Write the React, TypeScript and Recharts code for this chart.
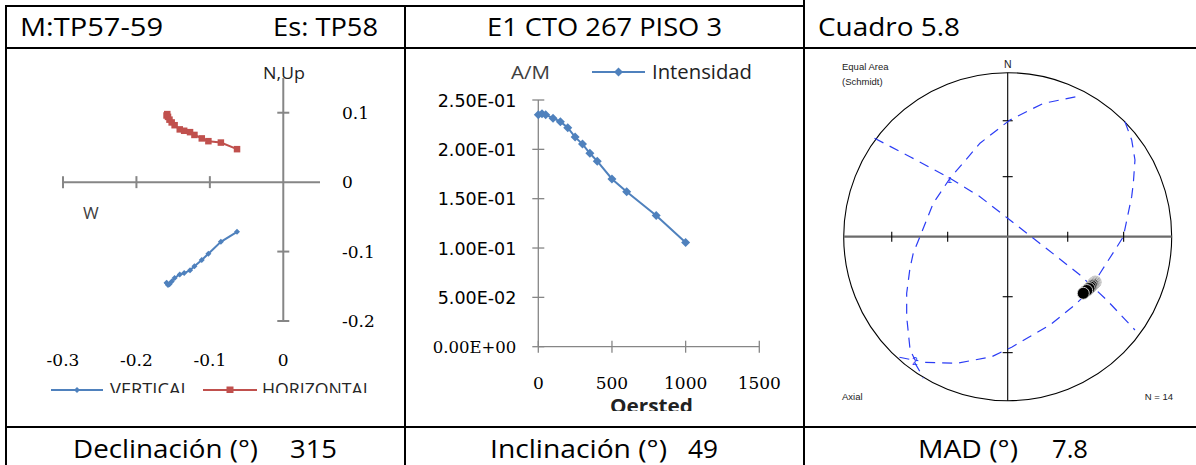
import React from 'react';
import {
  ScatterChart, Scatter, XAxis, YAxis, ReferenceLine, ReferenceDot, ReferenceArea,
  LineChart, Line,
} from 'recharts';

// ---------- Panel 1: Zijderveld diagram ----------
const steps = [0, 25, 50, 100, 150, 200, 250, 300, 350, 400, 500, 600, 800, 1000];
const east = [-0.159, -0.158, -0.157, -0.155, -0.152, -0.148, -0.141, -0.135, -0.127, -0.121, -0.111, -0.102, -0.085, -0.063];
const north = [0.096, 0.098, 0.094, 0.090, 0.086, 0.082, 0.076, 0.074, 0.072, 0.068, 0.063, 0.059, 0.057, 0.0475];
const up = [-0.145, -0.146, -0.148, -0.147, -0.143, -0.138, -0.133, -0.131, -0.127, -0.121, -0.112, -0.103, -0.086, -0.0715];
const zijXTicks = [-0.3, -0.2, -0.1, 0];
const zijYTicks = [-0.2, -0.1, 0, 0.1];

// ---------- Panel 2: intensity decay ----------
const intensity = [0.235, 0.236, 0.235, 0.2316, 0.228, 0.222, 0.2124, 0.2053, 0.196, 0.188, 0.170, 0.157, 0.133, 0.1055];
const intXTicks = [0, 500, 1000, 1500];
const intYTicks = [0, 0.05, 0.1, 0.15, 0.2, 0.25];
const intYLabels = ['0.00E+00', '5.00E-02', '1.00E-01', '1.50E-01', '2.00E-01', '2.50E-01'];

// ---------- Panel 3: equal-area stereonet (unit-circle coordinates) ----------
const netTicks = [-0.707, -0.366, 0.366, 0.707];
const circleA: [number, number][] = [
  [0.715, 0.701], [0.756, 0.59], [0.776, 0.468], [0.766, 0.326], [0.756, 0.244], [0.705, 0.0],
  [0.654, -0.081], [0.563, -0.223], [0.482, -0.345], [0.41, -0.416], [0.258, -0.538], [0.024, -0.674],
  [-0.098, -0.732], [-0.311, -0.772], [-0.504, -0.766], [-0.565, -0.752], [-0.595, -0.691],
  [-0.616, -0.488], [-0.616, -0.345], [-0.596, -0.193], [-0.576, -0.101], [-0.535, 0.0],
  [-0.454, 0.204], [-0.352, 0.356], [-0.169, 0.57], [0.014, 0.712], [0.217, 0.813], [0.451, 0.86],
];
const circleB: [number, number][] = [
  [-0.812, 0.6], [-0.596, 0.488], [-0.352, 0.356], [-0.169, 0.244], [0.0, 0.112],
  [0.248, -0.081], [0.39, -0.193], [0.441, -0.234], [0.604, -0.386], [0.776, -0.569],
];
const circleC: [number, number][] = [
  [-0.66, -0.735], [-0.576, -0.752], [-0.535, -0.823], [-0.515, -0.863],
];
const dirU = [0.534, 0.533, 0.532, 0.53, 0.528, 0.526, 0.523, 0.52, 0.516, 0.511, 0.504, 0.496, 0.482, 0.461];
const dirV = [-0.276, -0.277, -0.278, -0.28, -0.282, -0.284, -0.287, -0.29, -0.295, -0.3, -0.307, -0.316, -0.328, -0.345];

const vertPts = east.map((e, i) => ({ x: e, y: up[i] }));
const horPts = east.map((e, i) => ({ x: e, y: north[i] }));
const intData = steps.map((s, i) => ({ oe: s, m: intensity[i] }));
const toPts = (arr: [number, number][]) => arr.map(([x, y]) => ({ x, y }));
const dirPts = dirU.map((u, i) => ({ x: u, y: dirV[i] }));

const BLUE = '#4F81BD';
const RED = '#C0504D';
const AXIS = '#868686';
const NETBLUE = '#2b3cf5';
const SANS = '"Open Sans", "DejaVu Sans", sans-serif';
const SERIF = '"DejaVu Serif", serif';
const ARIAL = '"Liberation Sans", Arial, sans-serif';

const fmtNum = (v: number) => String(v);

const ZXTick = (p: any) => (
  <text x={p.x} y={p.y + 45} textAnchor="middle" fontFamily={SERIF} fontSize={17} fill="#000">
    {fmtNum(p.payload.value)}
  </text>
);
const ZYTick = (p: any) => (
  <text x={p.x + 22} y={p.y + 6} textAnchor="start" fontFamily={SERIF} fontSize={17} fill="#000">
    {fmtNum(p.payload.value)}
  </text>
);
const IXTick = (p: any) => (
  <g>
    <line x1={p.x} x2={p.x} y1={p.y - 6} y2={p.y + 6} stroke={AXIS} strokeWidth={1.3} />
    <text x={p.x} y={p.y + 42.5} textAnchor="middle" fontFamily={SERIF} fontSize={17} fill="#000">
      {p.payload.value}
    </text>
  </g>
);
const IYTick = (p: any) => {
  const idx = intYTicks.indexOf(p.payload.value);
  const isZero = p.payload.value === 0;
  return (
    <g>
      <line x1={p.x - 6} x2={p.x + 6} y1={p.y} y2={p.y} stroke={AXIS} strokeWidth={1.3} />
      <text x={p.x - 22} y={p.y + 6.5} textAnchor="end" fontFamily={isZero ? SERIF : '"DejaVu Sans", sans-serif'}
        fontSize={isZero ? 16.5 : 17.5} fill="#000">
        {intYLabels[idx]}
      </text>
    </g>
  );
};

const VTick = (len: number, color: string, w: number) => (p: any) => (
  <line x1={p.cx} x2={p.cx} y1={p.cy - len} y2={p.cy + len} stroke={color} strokeWidth={w} />
);
const HTick = (len: number, color: string, w: number) => (p: any) => (
  <line x1={p.cx - len} x2={p.cx + len} y1={p.cy} y2={p.cy} stroke={color} strokeWidth={w} />
);

const Diamond = (r: number, color: string) => (p: any) => (
  <path key={`dm${p.index}`} d={`M${p.cx},${p.cy - r}L${p.cx + r},${p.cy}L${p.cx},${p.cy + r}L${p.cx - r},${p.cy}Z`} fill={color} />
);
const Square = (s: number, color: string) => (p: any) => (
  <rect x={p.cx - s / 2} y={p.cy - s / 2} width={s} height={s} fill={color} />
);
const NoShape = () => <g />;
const NetDot = (p: any) => (
  <circle cx={p.cx} cy={p.cy} r={6} fill="#000" stroke="#ddd" strokeWidth={0.9} />
);
const PrimitiveCircle = (p: any) => (
  <ellipse cx={p.x + p.width / 2} cy={p.y + p.height / 2} rx={p.width / 2} ry={p.height / 2}
    fill="none" stroke="#000" strokeWidth={1.1} />
);

const dashLine = { stroke: NETBLUE, strokeWidth: 1.2, strokeDasharray: '10 7', fill: 'none' };

export default function App() {
  return (
    <div style={{ position: 'absolute', left: 0, top: 0, width: 1196, height: 465, background: '#fff', overflow: 'hidden' }}>
      {/* Panel 1 */}
      <div style={{ position: 'absolute', left: 6, top: 48, width: 399, height: 345, overflow: 'hidden' }}>
        <ScatterChart width={399} height={345} margin={{ top: 30, right: 25, bottom: 32, left: 57 }}>
          <XAxis type="number" dataKey="x" domain={[-0.3, 0.05]} ticks={zijXTicks} axisLine={false} tickLine={false}
            tickSize={0} tickMargin={0} height={40} tick={ZXTick} allowDataOverflow />
          <YAxis type="number" dataKey="y" orientation="right" domain={[-0.2, 0.15]} ticks={zijYTicks} axisLine={false}
            tickLine={false} tickSize={0} tickMargin={0} width={60} tick={ZYTick} allowDataOverflow />
          <ReferenceLine y={0} stroke={AXIS} strokeWidth={2} />
          <ReferenceLine x={0} stroke={AXIS} strokeWidth={2} />
          {zijXTicks.filter((v) => v !== 0).map((v) => (
            <ReferenceDot key={'zx' + v} x={v} y={0} r={1} shape={VTick(6, AXIS, 2)} />
          ))}
          {zijYTicks.filter((v) => v !== 0).map((v) => (
            <ReferenceDot key={'zy' + v} x={0} y={v} r={1} shape={HTick(6, AXIS, 2)} />
          ))}
          <Scatter data={vertPts} fill={BLUE} line={{ stroke: BLUE, strokeWidth: 2 }} shape={Diamond(3, BLUE)} isAnimationActive={false} />
          <Scatter data={horPts} fill={RED} line={{ stroke: RED, strokeWidth: 2 }} shape={Square(6.5, RED)} isAnimationActive={false} />
        </ScatterChart>
      </div>

      {/* Panel 2 */}
      <div style={{ position: 'absolute', left: 405, top: 48, width: 399, height: 363, overflow: 'hidden' }}>
        <LineChart width={399} height={363} data={intData} margin={{ top: 52, right: 44.7, bottom: 24.3, left: 33.3 }}>
          <XAxis type="number" dataKey="oe" domain={[0, 1500]} ticks={intXTicks} axisLine={{ stroke: AXIS, strokeWidth: 1.3 }}
            tickLine={false} tickSize={0} tickMargin={0} height={40} tick={IXTick} />
          <YAxis type="number" domain={[0, 0.25]} ticks={intYTicks} axisLine={{ stroke: AXIS, strokeWidth: 1.3 }}
            tickLine={false} tickSize={0} tickMargin={0} width={100} tick={IYTick} />
          <Line type="linear" dataKey="m" stroke={BLUE} strokeWidth={2} dot={Diamond(4.5, BLUE)} isAnimationActive={false} />
        </LineChart>
      </div>

      {/* Panel 3 */}
      <div style={{ position: 'absolute', left: 804, top: 48, width: 392, height: 379 }}>
        <ScatterChart width={392} height={379} margin={{ top: 24.7, right: 24.3, bottom: 26.3, left: 39.7 }}>
          <XAxis type="number" dataKey="x" domain={[-1, 1]} hide />
          <YAxis type="number" dataKey="y" domain={[-1, 1]} hide />
          <ReferenceArea x1={-1} x2={1} y1={-1} y2={1} shape={PrimitiveCircle} />
          <ReferenceLine x={0} stroke="#000" strokeWidth={1.1} />
          <ReferenceLine y={0} stroke="#6b6b6b" strokeWidth={2.2} />
          {netTicks.map((v) => (
            <ReferenceDot key={'nx' + v} x={v} y={0} r={1} shape={VTick(5, '#000', 1.1)} />
          ))}
          {netTicks.map((v) => (
            <ReferenceDot key={'ny' + v} x={0} y={v} r={1} shape={HTick(5, '#000', 1.1)} />
          ))}
          <Scatter data={toPts(circleA)} fill={NETBLUE} line={dashLine} shape={NoShape} isAnimationActive={false} />
          <Scatter data={toPts(circleB)} fill={NETBLUE} line={dashLine} shape={NoShape} isAnimationActive={false} />
          <Scatter data={toPts(circleC)} fill={NETBLUE} line={dashLine} shape={NoShape} isAnimationActive={false} />
          <Scatter data={dirPts} fill="#000" shape={NetDot} isAnimationActive={false} />
        </ScatterChart>
      </div>

      {/* Overlay: table, titles, legends */}
      <svg width={1196} height={465} style={{ position: 'absolute', left: 0, top: 0, pointerEvents: 'none' }}>
        <defs>
          <clipPath id="clip1"><rect x={6} y={48} width={399} height={345} /></clipPath>
          <clipPath id="clip2"><rect x={405} y={48} width={399} height={363} /></clipPath>
        </defs>
        {/* table grid */}
        <g stroke="#000" strokeWidth={2}>
          <line x1={5} x2={805} y1={6} y2={6} />
          <line x1={5} x2={1196} y1={48} y2={48} />
          <line x1={5} x2={1196} y1={427} y2={427} />
          <line x1={6} x2={6} y1={5} y2={465} />
          <line x1={405} x2={405} y1={5} y2={465} />
          <line x1={804} x2={804} y1={0} y2={465} />
        </g>
        {/* header texts */}
        <g fontFamily={SANS} fontSize={25} fill="#000">
          <text x={20} y={36} textLength={143} lengthAdjust="spacingAndGlyphs">M:TP57-59</text>
          <text x={273} y={36} textLength={105} lengthAdjust="spacingAndGlyphs">Es: TP58</text>
          <text x={487} y={36} textLength={235} lengthAdjust="spacingAndGlyphs">E1 CTO 267 PISO 3</text>
          <text x={818} y={36} textLength={142} lengthAdjust="spacingAndGlyphs">Cuadro 5.8</text>
        </g>
        {/* footer texts */}
        <g fontFamily={SANS} fontSize={25.5} fill="#000">
          <text x={73} y={457.5} textLength={185} lengthAdjust="spacingAndGlyphs">Declinación (°)</text>
          <text x={290} y={457.5} textLength={47} lengthAdjust="spacingAndGlyphs">315</text>
          <text x={490} y={457.5} textLength={177} lengthAdjust="spacingAndGlyphs">Inclinación (°)</text>
          <text x={688} y={457.5} textLength={30} lengthAdjust="spacingAndGlyphs">49</text>
          <text x={918} y={457.5} textLength={100} lengthAdjust="spacingAndGlyphs">MAD (°)</text>
          <text x={1052} y={457.5} textLength={36} lengthAdjust="spacingAndGlyphs">7.8</text>
        </g>

        {/* panel 1 labels & legend */}
        <text x={263} y={79} fontFamily={SANS} fontSize={17} fill="#222" textLength={42} lengthAdjust="spacingAndGlyphs">N,Up</text>
        <text x={83} y={219} fontFamily={SANS} fontSize={17} fill="#404040">W</text>
        <g clipPath="url(#clip1)">
          <line x1={51} x2={103} y1={390} y2={390} stroke={BLUE} strokeWidth={2} />
          <path d="M77,387L80,390L77,393L74,390Z" fill={BLUE} />
          <text x={110} y={396} fontFamily={SANS} fontSize={18} fill="#262626" textLength={80} lengthAdjust="spacingAndGlyphs">VERTICAL</text>
          <line x1={203} x2={257} y1={390} y2={390} stroke={RED} strokeWidth={2} />
          <rect x={226.5} y={386.5} width={7} height={7} fill={RED} />
          <text x={262} y={396} fontFamily={SANS} fontSize={18} fill="#262626" textLength={110} lengthAdjust="spacingAndGlyphs">HORIZONTAL</text>
        </g>

        {/* panel 2 labels & legend */}
        <text x={511} y={78.5} fontFamily={SANS} fontSize={19} fill="#404040" textLength={39} lengthAdjust="spacingAndGlyphs">A/M</text>
        <line x1={592} x2={645} y1={72} y2={72} stroke={BLUE} strokeWidth={2} />
        <path d="M618.5,67.5L623,72L618.5,76.5L614,72Z" fill={BLUE} />
        <text x={652} y={79} fontFamily={SANS} fontSize={20} fill="#222" textLength={100} lengthAdjust="spacingAndGlyphs">Intensidad</text>
        <g clipPath="url(#clip2)">
          <text x={610} y={413} fontFamily={SANS} fontSize={20} fontWeight="bold" fill="#222" textLength={83} lengthAdjust="spacingAndGlyphs">Oersted</text>
        </g>

        {/* panel 3 labels */}
        <g fontFamily={ARIAL} fontSize={9.5} fill="#222">
          <text x={842} y={69.5}>Equal Area</text>
          <text x={842} y={84.5}>(Schmidt)</text>
          <text x={1007.7} y={68} textAnchor="middle" fontSize={10.5}>N</text>
          <text x={842} y={399.5}>Axial</text>
          <text x={1173} y={399.5} textAnchor="end">N = 14</text>
        </g>
        <text x={947} y={183} fontFamily={ARIAL} fontSize={9} fill={NETBLUE}>1</text>
        <text x={912} y={365} fontFamily={ARIAL} fontSize={10} fill={NETBLUE}>2</text>
      </svg>
    </div>
  );
}
